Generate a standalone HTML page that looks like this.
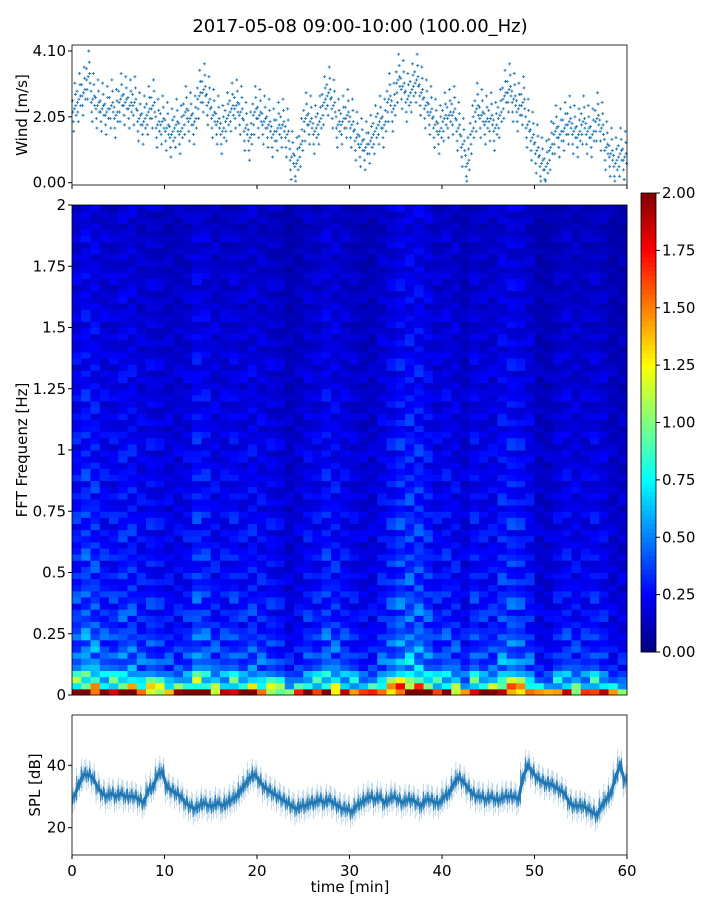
<!DOCTYPE html>
<html><head><meta charset="utf-8"><style>
body{margin:0;background:#fff}
svg{display:block;font-family:"DejaVu Sans","Liberation Sans",sans-serif}
</style></head><body>
<svg id="fig" width="720" height="900" viewBox="0 0 720 900" xmlns="http://www.w3.org/2000/svg">
<text x="360" y="32" text-anchor="middle" font-size="18" fill="#000">2017-05-08 09:00-10:00 (100.00_Hz)</text>
<g id="wind"></g>
<g id="spec"></g>
<g id="cbar"></g>
<g id="spl"></g>
</svg>
<script>
const windValues=[2.3,2.6,2.8,3.3,2.6,2.4,2.3,2.2,2.4,2.1,2.6,2.5,2.4,2.5,2.0,1.9,2.2,2.4,1.8,1.9,1.7,1.5,1.8,1.6,2.2,2.0,1.9,2.7,2.9,2.5,2.1,1.9,1.6,2.0,2.3,2.4,2.2,1.7,1.4,2.2,2.1,1.9,1.8,1.5,1.7,1.8,1.5,0.8,0.6,1.2,2.0,1.9,1.6,1.9,2.5,2.8,2.4,1.8,1.9,2.1,1.8,1.4,1.2,1.1,1.3,1.6,1.9,1.8,2.6,2.3,3.2,3.0,2.6,2.9,3.2,2.8,2.4,2.2,1.8,1.6,2.0,2.1,2.2,1.7,1.2,0.6,1.6,2.3,2.1,1.9,2.0,1.7,2.1,2.7,2.9,2.6,2.3,2.5,1.8,1.4,1.0,0.6,0.5,1.1,1.6,1.5,1.7,1.9,1.6,1.5,1.9,1.6,1.5,2.0,1.7,1.1,0.9,0.6,0.9,0.8];
const splValues=[30,34,37,37,36,33,31,30,31,30,31,30,30,30,29,28,32,33,37,38,33,32,31,30,28,27,26,27,28,27,27,28,27,28,29,30,32,34,36,37,35,33,32,31,30,29,28,27,26,27,27,28,28,29,28,29,28,27,26,26,25,27,28,29,30,29,30,28,29,30,29,28,29,29,28,27,29,29,28,28,30,31,34,36,35,33,31,30,30,29,30,29,29,30,30,30,29,36,40,38,36,35,34,34,33,32,31,28,27,27,27,26,25,24,27,29,31,36,40,35];
const freqProfile=[1.8,1.0,0.75,0.6,0.5,0.45,0.42,0.4,0.38,0.36,0.35,0.34,0.33,0.32,0.31,0.31,0.3,0.3,0.29,0.29,0.28,0.28,0.28,0.27,0.27,0.27,0.26,0.26,0.26,0.26,0.25,0.25,0.25,0.25,0.24,0.24,0.24,0.24,0.23,0.23,0.23,0.23,0.22,0.22,0.22,0.22,0.21,0.21,0.21,0.21,0.2,0.2,0.2,0.2,0.2,0.19,0.19,0.19,0.19,0.19,0.18,0.18,0.18,0.18,0.18,0.17,0.17,0.17,0.17,0.17,0.16,0.16,0.16,0.16,0.16,0.15,0.15,0.15,0.15,0.15];
const timeFactor=[1.1,1.3,1.2,1.0,1.0,1.1,1.1,0.9,1.0,0.9,0.8,0.8,0.9,1.2,1.1,0.9,0.9,1.0,0.9,1.0,0.9,0.9,0.8,0.6,0.7,0.9,0.9,1.1,1.0,0.9,0.8,0.7,0.7,0.9,1.1,1.3,1.3,1.3,1.1,0.9,1.0,0.9,0.7,1.0,0.9,0.9,1.1,1.2,1.1,0.9,0.6,0.6,0.8,0.9,0.8,0.8,0.9,0.8,0.6,0.6];
const timeTicks=[0,10,20,30,40,50,60];
const windTicks=[0,2.05,4.10];
const freqTicks=[0,0.25,0.5,0.75,1,1.25,1.5,1.75,2];
const cbarTicks=[0,0.25,0.5,0.75,1,1.25,1.5,1.75,2];
const splTicks=[20,40];

const NS="http://www.w3.org/2000/svg";
function mk(tag,attrs,parent){const e=document.createElementNS(NS,tag);for(const k in attrs)e.setAttribute(k,attrs[k]);parent.appendChild(e);return e;}
const X0=72,X1=627;
const xT=t=>X0+(X1-X0)*t/60;
const yW=v=>182.7-(182.7-51)*v/4.10;
const yF=f=>695-490*f/2;
const yS=v=>827.7-(v-20)*62.4/20;
const yC=v=>652-459*v/2;
function jet(v){v=Math.max(0,Math.min(1,v));const c=x=>Math.round(255*Math.max(0,Math.min(1,1.5-Math.abs(x))));return `rgb(${c(4*v-3)},${c(4*v-2)},${c(4*v-1)})`;}
const fmt2=v=>v.toFixed(2);
const fmtF=v=>String(v);

// Wind panel
const W=document.getElementById('wind');
const jit=[[0,0],[0.12,0.45],[-0.12,-0.4],[0.2,-0.2],[-0.2,0.25],[0.06,0.8],[-0.06,-0.7],[0.16,0.1],[-0.16,-0.1]];
windValues.forEach((v,i)=>{
  jit.forEach((o,j)=>{
    const x=xT(i*0.5+0.25+o[0]), y=yW(Math.max(0.05,v+o[1]));
    const p=mk('path',{d:`M${x-1.5},${y}h3M${x},${y-1.5}v3`,stroke:'#1f77b4','stroke-width':0.9},W);
    
    
  });
});
mk('rect',{x:X0,y:45,width:X1-X0,height:140,fill:'none',stroke:'#000','stroke-width':0.8},W);
windTicks.forEach(v=>{const y=yW(v);mk('line',{x1:X0-4,x2:X0,y1:y,y2:y,stroke:'#000'},W);
  const t=mk('text',{x:X0-6,y:y+5,'text-anchor':'end','font-size':15},W);t.textContent=fmt2(v);
  });
timeTicks.forEach(v=>{const x=xT(v);mk('line',{x1:x,x2:x,y1:185,y2:189,stroke:'#000'},W);});
const wl=mk('text',{transform:'translate(27,115) rotate(-90)','text-anchor':'middle','font-size':15},W);wl.textContent='Wind [m/s]';


// Spectrogram
const S=document.getElementById('spec');
const nF=freqProfile.length, fStep=2/nF;
const texPat=[1.0,0.7,1.3,0.85,1.15,0.65,1.25,0.9,1.05,0.75,1.35,0.95,0.8];
timeFactor.forEach((tf,ti)=>{
  freqProfile.forEach((fp,fi)=>{
    const tex=texPat[(fi*5+(ti*ti*3+ti)%13)%13];
    const val=fp*tf*tex;
    const y0=yF((fi+1)*fStep), y1=yF(fi*fStep);
    const r=mk('rect',{x:xT(ti),y:y0,width:xT(ti+1)-xT(ti)+0.5,height:y1-y0+0.5,fill:jet(val/2)},S);
    
    
  });
});
mk('rect',{x:X0,y:205,width:X1-X0,height:490,fill:'none',stroke:'#000','stroke-width':0.8},S);
freqTicks.forEach(v=>{const y=yF(v);mk('line',{x1:X0-4,x2:X0,y1:y,y2:y,stroke:'#000'},S);
  const t=mk('text',{x:X0-6,y:y+5,'text-anchor':'end','font-size':15},S);t.textContent=fmtF(v);
  });
const sl=mk('text',{transform:'translate(27,450) rotate(-90)','text-anchor':'middle','font-size':15},S);sl.textContent='FFT Frequenz [Hz]';


// Colorbar
const C=document.getElementById('cbar');
for(let i=0;i<100;i++){const y=yC((i+1)*0.02);mk('rect',{x:641,y:y,width:15,height:yC(i*0.02)-y+0.5,fill:jet((i+0.5)/100)},C);}
mk('rect',{x:641,y:193,width:15,height:459,fill:'none',stroke:'#000','stroke-width':0.8},C);
cbarTicks.forEach(v=>{const y=yC(v);mk('line',{x1:656,x2:660,y1:y,y2:y,stroke:'#000'},C);
  const t=mk('text',{x:662,y:y+5,'font-size':15},C);t.textContent=fmt2(v);
  });

// SPL
const P=document.getElementById('spl');
const pts=splValues.map((v,i)=>[xT(i*0.5+0.25),yS(v)]);
let z1='',z2='';
pts.forEach((p,i)=>{
  const seg=[-1,1,-0.6,0.8,-0.9,0.5];
  seg.forEach((s,k)=>{const x=p[0]-2.3+k*0.9;z1+=`${x},${p[1]+s*16} `;z2+=`${x},${p[1]+s*8} `;});
});
const b1=mk('polyline',{points:z1,fill:'none',stroke:'#1f77b4','stroke-width':0.5,'stroke-opacity':0.3},P);

const b2=mk('polyline',{points:z2,fill:'none',stroke:'#1f77b4','stroke-width':0.9,'stroke-opacity':0.9},P);

mk('polyline',{points:pts.map(p=>p.join(',')).join(' '),fill:'none',stroke:'#1f77b4','stroke-width':3},P);
mk('rect',{x:X0,y:715,width:X1-X0,height:140,fill:'none',stroke:'#000','stroke-width':0.8},P);
splTicks.forEach(v=>{const y=yS(v);mk('line',{x1:X0-4,x2:X0,y1:y,y2:y,stroke:'#000'},P);
  const t=mk('text',{x:X0-6,y:y+5,'text-anchor':'end','font-size':15},P);t.textContent=String(v);
  });
timeTicks.forEach(v=>{const x=xT(v);mk('line',{x1:x,x2:x,y1:855,y2:859,stroke:'#000'},P);
  const t=mk('text',{x:x,y:876,'text-anchor':'middle','font-size':15},P);t.textContent=String(v);
  });
const pl=mk('text',{transform:'translate(40,785) rotate(-90)','text-anchor':'middle','font-size':15},P);pl.textContent='SPL [dB]';

const xl=mk('text',{x:350,y:892,'text-anchor':'middle','font-size':15},P);xl.textContent='time [min]';

</script>
</body></html>
